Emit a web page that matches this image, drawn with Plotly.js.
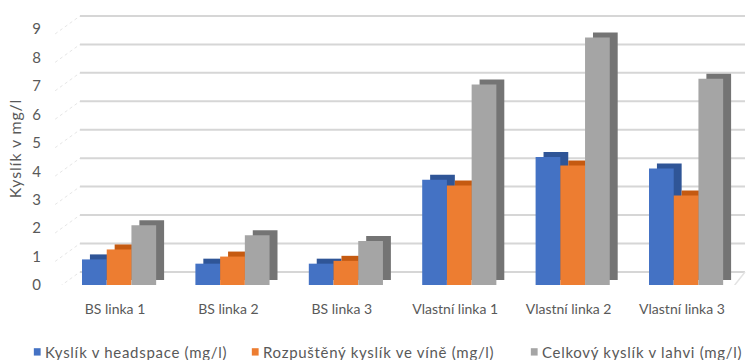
<!DOCTYPE html>
<html>
<head>
<meta charset="utf-8">
<script src="https://cdn.plot.ly/plotly-3.0.1.min.js"></script>
<style>
html,body{margin:0;padding:0;background:#fff;}
#chart{width:756px;height:360px;}
.annotation-text{letter-spacing:0.7px;}
.ytitle{letter-spacing:0.8px;}
</style>
</head>
<body>
<div id="chart"></div>
<script>
// ---- data ----
const categories = ['BS linka 1', 'BS linka 2', 'BS linka 3', 'Vlastní linka 1', 'Vlastní linka 2', 'Vlastní linka 3'];
const headspace = [0.9, 0.75, 0.75, 3.7, 4.5, 4.1];
const dissolved = [1.25, 1.0, 0.85, 3.5, 4.2, 3.15];
const totalOxygen = [2.1, 1.75, 1.55, 7.05, 8.7, 7.25];
const seriesNames = ['Kyslík v headspace (mg/l)', 'Rozpuštěný kyslík ve víně (mg/l)', 'Celkový kyslík v lahvi (mg/l)'];
const yTickValues = [0, 1, 2, 3, 4, 5, 6, 7, 8, 9];
const yAxisTitle = 'Kyslík v mg/l';

// ---- styling ----
const frontColors = ['#4472C4', '#ED7D31', '#A5A5A5'];
const depthColors = ['#2F5597', '#C55A11', '#747474'];
const barW = 0.218;
const offsets = [-0.291, -0.073, 0.145];
const depthX = 0.07;   // perspective shift (category units)
const depthY = 0.176;  // perspective shift (value units)
const wallShift = 0.46; // back-wall gridline shift (value units)
const font = 'Lato, "Open Sans", sans-serif';
const textColor = '#595959';
const legendX = [-0.0308, 0.2893, 0.699]; // paper x of legend text starts
const legendY = -0.245;

const allSeries = [headspace, dissolved, totalOxygen];
const traces = [];
allSeries.forEach((vals, i) => {
  traces.push({
    type: 'bar', x: categories, y: vals, base: depthY,
    width: barW, offset: offsets[i] + depthX,
    marker: {color: depthColors[i], line: {width: 0}},
    showlegend: false, hoverinfo: 'skip'
  });
});
allSeries.forEach((vals, i) => {
  traces.push({
    type: 'bar', x: categories, y: vals, name: seriesNames[i],
    width: barW, offset: offsets[i],
    marker: {color: frontColors[i], line: {width: 0}},
    showlegend: false
  });
});

const shapes = [];
yTickValues.forEach(t => {
  shapes.push({type: 'line', layer: 'below', xref: 'paper', yref: 'y',
    x0: 0.0235, x1: 1.0, y0: t + wallShift, y1: t + wallShift,
    line: {color: '#d6d6d6', width: 2}});
  shapes.push({type: 'line', layer: 'below', xref: 'paper', yref: 'y',
    x0: -0.013, x1: 0.0235, y0: t + wallShift - 0.63, y1: t + wallShift,
    line: {color: '#e6e6e6', width: 1, dash: 'dot'}});
});
// floor front edge
shapes.push({type: 'line', layer: 'below', xref: 'paper', yref: 'y',
  x0: 0.0, x1: 0.984, y0: -0.03, y1: -0.03, line: {color: '#e3e3e3', width: 1.5}});
shapes.push({type: 'line', layer: 'below', xref: 'paper', yref: 'y',
  x0: 0.984, x1: 1.0, y0: -0.03, y1: wallShift, line: {color: '#e3e3e3', width: 1.5}});

// legend built from the series names and colours
const annotations = seriesNames.map((name, i) => ({
  xref: 'paper', yref: 'paper', x: legendX[i], y: legendY,
  xanchor: 'left', yanchor: 'middle', showarrow: false,
  text: name, font: {family: font, size: 15, color: textColor}
}));
seriesNames.forEach((name, i) => {
  shapes.push({type: 'rect', xref: 'paper', yref: 'paper',
    x0: legendX[i] - 0.0135, x1: legendX[i] - 0.0035,
    y0: legendY - 0.0135, y1: legendY + 0.0135,
    fillcolor: frontColors[i], line: {width: 0}});
});

const layout = {
  width: 756, height: 360,
  margin: {l: 64, r: 11, t: 12, b: 75, autoexpand: false},
  paper_bgcolor: '#ffffff', plot_bgcolor: '#ffffff',
  barmode: 'overlay',
  font: {family: font, size: 14, color: textColor},
  xaxis: {
    type: 'category', range: [-0.4497, 5.5556],
    showgrid: false, zeroline: false, showline: false,
    ticks: 'outside', ticklen: 11, tickcolor: 'rgba(0,0,0,0)',
    tickfont: {family: font, size: 14, color: textColor}
  },
  yaxis: {
    range: [0, 9.6], tickvals: yTickValues,
    showgrid: false, zeroline: false, showline: false,
    ticks: 'outside', ticklen: 19, tickcolor: 'rgba(0,0,0,0)',
    tickfont: {family: font, size: 15, color: textColor},
    title: {text: yAxisTitle, font: {family: font, size: 16, color: textColor}, standoff: 6}
  },
  shapes: shapes,
  annotations: annotations,
  showlegend: false
};

Plotly.newPlot('chart', traces, layout, {displayModeBar: false, staticPlot: true});
</script>
</body>
</html>
